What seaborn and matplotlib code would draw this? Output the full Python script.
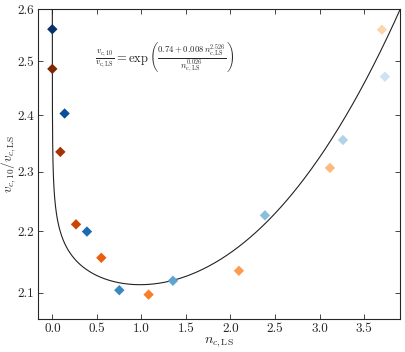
import numpy as np
import pandas as pd
import matplotlib
matplotlib.use("Agg")
import matplotlib.pyplot as plt
import matplotlib.ticker as mticker
import seaborn as sns

# measured points (blue series and orange series)
blue_n = [0.0, 0.138, 0.389, 0.752, 1.354, 2.387, 3.263, 3.734]
blue_v = [2.561, 2.4035, 2.199, 2.104, 2.119, 2.226, 2.356, 2.471]
orange_n = [0.0, 0.09, 0.266, 0.55, 1.081, 2.095, 3.117, 3.70]
orange_v = [2.4856, 2.335, 2.211, 2.156, 2.097, 2.135, 2.307, 2.560]

# fit parameters
a, b, p, q = 0.74, 0.008, 2.526, 0.026
yticks = [2.1, 2.2, 2.3, 2.4, 2.5, 2.6]
xticks = [0.0, 0.5, 1.0, 1.5, 2.0, 2.5, 3.0, 3.5]

sns.set_style("ticks")
plt.rcParams['font.family'] = 'serif'
plt.rcParams['font.serif'] = ['cmr10', 'DejaVu Serif']
plt.rcParams['mathtext.fontset'] = 'cm'
plt.rcParams['axes.formatter.use_mathtext'] = True
plt.rcParams['axes.unicode_minus'] = False

fig = plt.figure(figsize=(4.05, 3.52), dpi=100)
ax = fig.add_axes([0.094, 0.094, 0.894, 0.88])

n_fit = np.concatenate([np.logspace(-12, -1, 400), np.linspace(0.1, 3.95, 400)])
v_fit = np.exp((a + b * n_fit ** p) / n_fit ** q)
sns.lineplot(x=n_fit, y=v_fit, sort=False, estimator=None, color='#222222',
             lw=0.8, ax=ax)

blues = plt.get_cmap('Blues')(np.linspace(1.0, 0.2, len(blue_n)))
oranges = plt.get_cmap('Oranges')(np.linspace(1.0, 0.22, len(orange_n)))

df = pd.DataFrame({
    'n': blue_n + orange_n,
    'v': blue_v + orange_v,
    'id': [f'b{i}' for i in range(len(blue_n))] + [f'o{i}' for i in range(len(orange_n))],
})
pal = {f'b{i}': blues[i] for i in range(len(blue_n))}
pal.update({f'o{i}': oranges[i] for i in range(len(orange_n))})
sns.scatterplot(data=df, x='n', y='v', hue='id', palette=pal, marker='D',
                s=28, linewidth=0, legend=False, ax=ax, zorder=3)

ax.set_yscale('log')
ax.set_xlim(-0.16, 3.905)
ax.set_ylim(2.059, 2.6)
ax.yaxis.set_major_locator(mticker.FixedLocator(yticks))
ax.yaxis.set_minor_locator(mticker.NullLocator())
ax.yaxis.set_major_formatter(mticker.FixedFormatter([f'{t:.1f}' for t in yticks]))
ax.set_xticks(xticks)
ax.set_xticklabels([f'{t:.1f}' for t in xticks])
ax.tick_params(direction='in', top=True, right=True, labelsize=9.5, length=3.5,
               width=0.6, pad=3)
for s in ax.spines.values():
    s.set_linewidth(0.8)

ax.set_xlabel(r'$n_{c,\mathrm{LS}}$', fontsize=10, labelpad=0)
ax.set_ylabel(r'$v_{c,10}/v_{c,\mathrm{LS}}$', fontsize=9.5)
ax.yaxis.set_label_coords(-0.055, 0.5)

ax.text(0.48, 2.508,
        r'$\frac{v_{\rm c,10}}{v_{\rm c,LS}} = \exp\left(\frac{0.74+0.008\,n_{\rm c,LS}^{2.526}}{n_{\rm c,LS}^{0.026}}\right)$',
        fontsize=9, ha='left', va='center')

fig.savefig('out.png', dpi=100)
